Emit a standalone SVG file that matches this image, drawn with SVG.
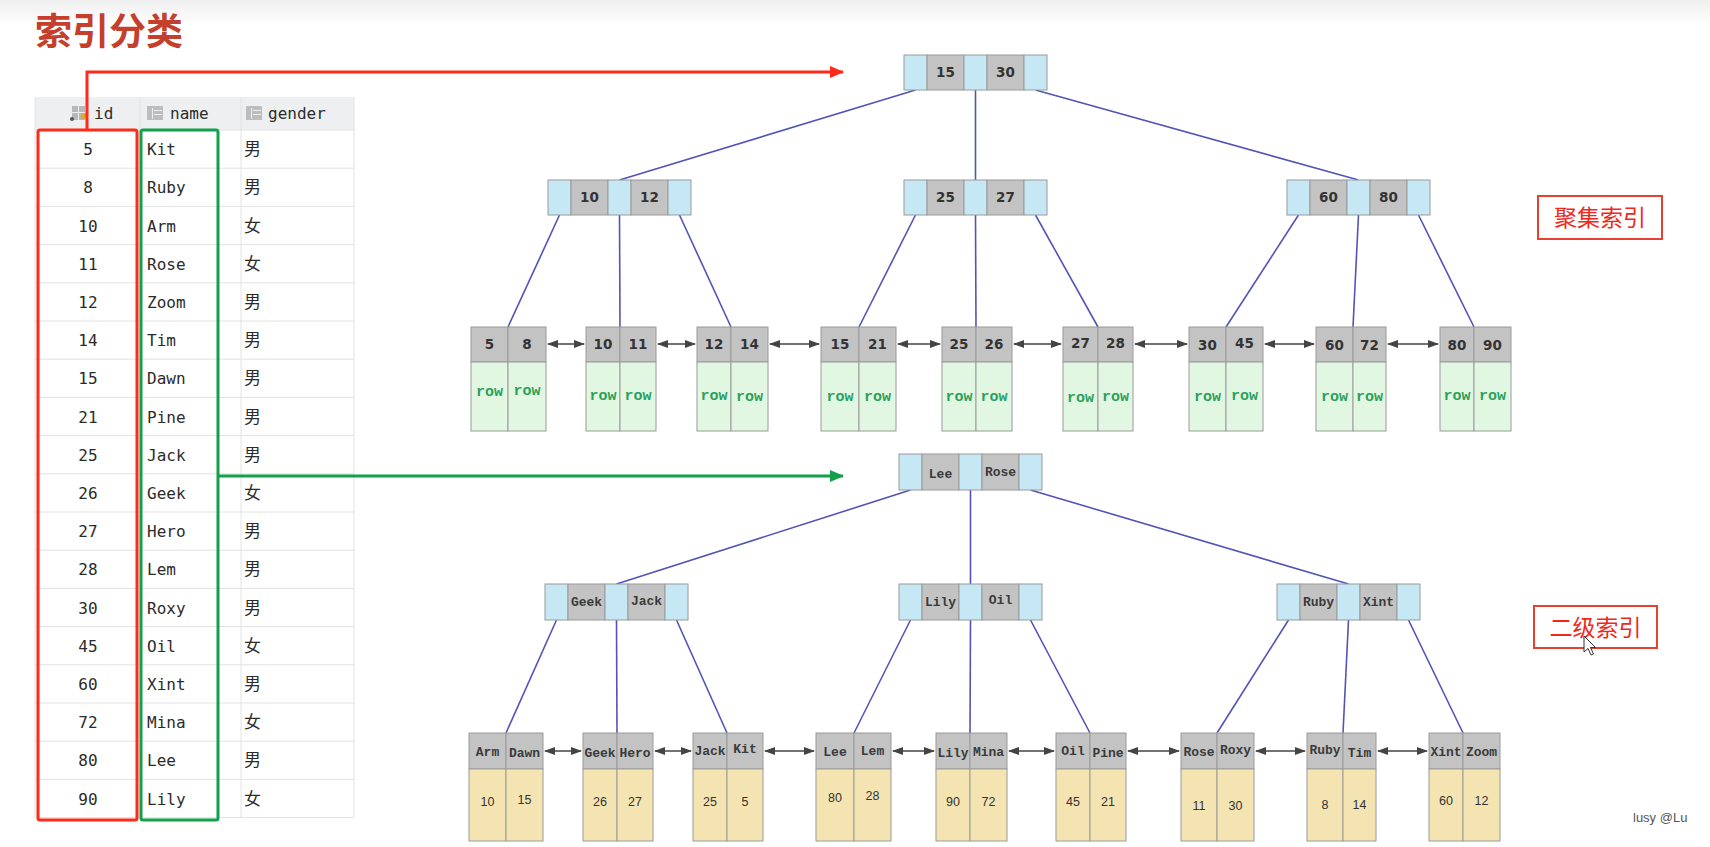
<svg xmlns="http://www.w3.org/2000/svg" width="1710" height="847" viewBox="0 0 1710 847">
<defs>
<linearGradient id="topg" x1="0" y1="0" x2="0" y2="1">
<stop offset="0" stop-color="#efefef"/><stop offset="1" stop-color="#ffffff"/>
</linearGradient>
<marker id="arR" markerWidth="14" markerHeight="12" refX="13" refY="6" orient="auto" markerUnits="userSpaceOnUse"><path d="M0,0 L14,6 L0,12 z" fill="#ff2a1a"/></marker>
<marker id="arG" markerWidth="14" markerHeight="12" refX="13" refY="6" orient="auto" markerUnits="userSpaceOnUse"><path d="M0,0 L14,6 L0,12 z" fill="#12a04a"/></marker>
<marker id="dh" markerWidth="11" markerHeight="8" refX="10" refY="4" orient="auto-start-reverse" markerUnits="userSpaceOnUse"><path d="M0,0 L11,4 L0,8 z" fill="#444"/></marker>
</defs>
<style>
.blue{fill:#c6e8f5;stroke:#9a9a9a;stroke-width:1}
.key{fill:#c3c3c3;stroke:#9a9a9a;stroke-width:1}
.rowc{fill:#e2f7e2;stroke:#9a9a9a;stroke-width:1}
.val{fill:#f4e4b2;stroke:#9a9a9a;stroke-width:1}
.k{font-family:"DejaVu Sans",Verdana,sans-serif;font-weight:bold;font-size:13.5px;fill:#333;text-anchor:middle}
.s{font-family:"Liberation Mono","Courier New",monospace;font-weight:bold;font-size:13px;fill:#3a3a3a;text-anchor:middle}
.rw{font-family:"Liberation Mono","Courier New",monospace;font-weight:bold;font-size:15px;fill:#2aa05a;text-anchor:middle}
.v{font-family:"Liberation Sans",Arial,sans-serif;font-size:12.5px;fill:#333;text-anchor:middle}
.con line{stroke:#5353b8;stroke-width:1.6}
.lk line{stroke:#444;stroke-width:1.4;marker-start:url(#dh);marker-end:url(#dh)}
.td{font-family:"DejaVu Sans Mono",monospace;font-size:16px;fill:#2b2b2b}
.tg{font-family:"Noto Sans CJK SC",sans-serif;font-size:17px;fill:#2b2b2b}
.grid line{stroke:#e2e2e2;stroke-width:1}
.lbl{fill:#fff;stroke:#e8412f;stroke-width:2}
.lt{font-family:"Noto Sans CJK SC",sans-serif;font-size:23px;fill:#f0281a;text-anchor:middle}
</style>
<rect x="0" y="0" width="1710" height="847" fill="#fff"/>
<rect x="0" y="0" width="1710" height="26" fill="url(#topg)"/>

<g id="title"><text x="35" y="45" font-family="Noto Sans CJK SC,sans-serif" font-weight="bold" font-size="37" fill="#c4402c">索引分类</text></g>

<g id="table">
<rect x="35" y="97" width="319" height="33" fill="#eeeff1"/>
<g class="grid">
<line x1="140" y1="97" x2="140" y2="817"/><line x1="241" y1="97" x2="241" y2="817"/>
<line x1="35" y1="97" x2="35" y2="817"/><line x1="354" y1="97" x2="354" y2="817"/>
<line x1="35" y1="130" x2="354" y2="130"/><line x1="35" y1="168.2" x2="354" y2="168.2"/><line x1="35" y1="206.4" x2="354" y2="206.4"/><line x1="35" y1="244.6" x2="354" y2="244.6"/><line x1="35" y1="282.8" x2="354" y2="282.8"/><line x1="35" y1="321" x2="354" y2="321"/><line x1="35" y1="359.2" x2="354" y2="359.2"/><line x1="35" y1="397.4" x2="354" y2="397.4"/><line x1="35" y1="435.6" x2="354" y2="435.6"/><line x1="35" y1="473.8" x2="354" y2="473.8"/><line x1="35" y1="512" x2="354" y2="512"/><line x1="35" y1="550.2" x2="354" y2="550.2"/><line x1="35" y1="588.4" x2="354" y2="588.4"/><line x1="35" y1="626.6" x2="354" y2="626.6"/><line x1="35" y1="664.8" x2="354" y2="664.8"/><line x1="35" y1="703" x2="354" y2="703"/><line x1="35" y1="741.2" x2="354" y2="741.2"/><line x1="35" y1="779.4" x2="354" y2="779.4"/><line x1="35" y1="817.6" x2="354" y2="817.6"/>
</g>
<g id="hdr-icons">
<rect x="72" y="106" width="13" height="14" fill="#b8b8b8"/><rect x="78" y="106" width="1" height="14" fill="#eee"/><rect x="72" y="112" width="13" height="1" fill="#eee"/><circle cx="84" cy="116" r="3" fill="#e0a82a"/><circle cx="72" cy="119" r="2" fill="#555"/>
<rect x="147" y="106" width="16" height="14" fill="#bdbdbd"/><rect x="152" y="108" width="1" height="11" fill="#eee"/><rect x="154" y="110" width="8" height="1" fill="#eee"/><rect x="154" y="114" width="8" height="1" fill="#eee"/>
<rect x="246" y="106" width="16" height="14" fill="#bdbdbd"/><rect x="251" y="108" width="1" height="11" fill="#eee"/><rect x="253" y="110" width="8" height="1" fill="#eee"/><rect x="253" y="114" width="8" height="1" fill="#eee"/>
</g>
<text class="td" x="94" y="119">id</text><text class="td" x="170" y="119">name</text><text class="td" x="268" y="119">gender</text>
<g class="td" text-anchor="middle">
<text x="88" y="155">5</text><text x="88" y="193">8</text><text x="88" y="231.5">10</text><text x="88" y="270">11</text><text x="88" y="308">12</text><text x="88" y="346">14</text><text x="88" y="384">15</text><text x="88" y="422.5">21</text><text x="88" y="460.5">25</text><text x="88" y="499">26</text><text x="88" y="537">27</text><text x="88" y="575">28</text><text x="88" y="613.5">30</text><text x="88" y="651.5">45</text><text x="88" y="690">60</text><text x="88" y="728">72</text><text x="88" y="766">80</text><text x="88" y="804.5">90</text>
</g>
<g class="td">
<text x="147" y="155">Kit</text><text x="147" y="193">Ruby</text><text x="147" y="231.5">Arm</text><text x="147" y="270">Rose</text><text x="147" y="308">Zoom</text><text x="147" y="346">Tim</text><text x="147" y="384">Dawn</text><text x="147" y="422.5">Pine</text><text x="147" y="460.5">Jack</text><text x="147" y="499">Geek</text><text x="147" y="537">Hero</text><text x="147" y="575">Lem</text><text x="147" y="613.5">Roxy</text><text x="147" y="651.5">Oil</text><text x="147" y="690">Xint</text><text x="147" y="728">Mina</text><text x="147" y="766">Lee</text><text x="147" y="804.5">Lily</text>
</g>
<g class="tg">
<text x="244" y="155">男</text><text x="244" y="193">男</text><text x="244" y="231.5">女</text><text x="244" y="270">女</text><text x="244" y="308">男</text><text x="244" y="346">男</text><text x="244" y="384">男</text><text x="244" y="422.5">男</text><text x="244" y="460.5">男</text><text x="244" y="499">女</text><text x="244" y="537">男</text><text x="244" y="575">男</text><text x="244" y="613.5">男</text><text x="244" y="651.5">女</text><text x="244" y="690">男</text><text x="244" y="728">女</text><text x="244" y="766">男</text><text x="244" y="804.5">女</text>
</g>
</g>

<g id="highlights">
<rect x="38" y="130" width="99" height="690" rx="2" fill="none" stroke="#ff2a1a" stroke-width="3"/>
<rect x="141" y="130" width="77" height="690" rx="2" fill="none" stroke="#12a04a" stroke-width="3"/>
</g>

<g id="connectors">
<polyline points="87,130 87,72 843,72" fill="none" stroke="#ff2a1a" stroke-width="3" marker-end="url(#arR)"/>
<line x1="218" y1="476" x2="843" y2="476" stroke="#12a04a" stroke-width="3" marker-end="url(#arG)"/>
<g class="con">
<line x1="915.5" y1="90" x2="619.5" y2="180"/><line x1="975.5" y1="90" x2="975.5" y2="180"/><line x1="1035.5" y1="90" x2="1358.5" y2="180"/>
<line x1="559.5" y1="215" x2="508" y2="327"/><line x1="619.5" y1="215" x2="620" y2="327"/><line x1="679.5" y1="215" x2="731" y2="327"/>
<line x1="915.5" y1="215" x2="859" y2="327"/><line x1="975.5" y1="215" x2="976" y2="327"/><line x1="1035.5" y1="215" x2="1098" y2="327"/>
<line x1="1298.5" y1="215" x2="1226" y2="327"/><line x1="1358.5" y1="215" x2="1353" y2="327"/><line x1="1418.5" y1="215" x2="1474" y2="327"/>
<line x1="910.5" y1="490" x2="616.5" y2="584"/><line x1="970.5" y1="490" x2="970.5" y2="584"/><line x1="1030.5" y1="490" x2="1348.5" y2="584"/>
<line x1="556.5" y1="620" x2="506" y2="733"/><line x1="616.5" y1="620" x2="617" y2="733"/><line x1="676.5" y1="620" x2="727" y2="733"/>
<line x1="910.5" y1="620" x2="854" y2="733"/><line x1="970.5" y1="620" x2="970" y2="733"/><line x1="1030.5" y1="620" x2="1090" y2="733"/>
<line x1="1288.5" y1="620" x2="1217" y2="733"/><line x1="1348.5" y1="620" x2="1343" y2="733"/><line x1="1408.5" y1="620" x2="1463" y2="733"/>
</g>
<g class="lk">
<line x1="548" y1="344" x2="584" y2="344"/><line x1="658" y1="344" x2="695" y2="344"/><line x1="770" y1="344" x2="819" y2="344"/><line x1="898" y1="344" x2="940" y2="344"/><line x1="1014" y1="344" x2="1061" y2="344"/><line x1="1135" y1="344" x2="1187" y2="344"/><line x1="1265" y1="344" x2="1314" y2="344"/><line x1="1388" y1="344" x2="1438" y2="344"/>
<line x1="545" y1="751" x2="581" y2="751"/><line x1="655" y1="751" x2="691" y2="751"/><line x1="765" y1="751" x2="814" y2="751"/><line x1="893" y1="751" x2="934" y2="751"/><line x1="1009" y1="751" x2="1054" y2="751"/><line x1="1128" y1="751" x2="1179" y2="751"/><line x1="1256" y1="751" x2="1305" y2="751"/><line x1="1378" y1="751" x2="1427" y2="751"/>
</g>
</g>

<g id="cl-root">
<rect class="blue" x="904" y="55" width="23" height="35"/><rect class="key" x="927" y="55" width="37" height="35"/><rect class="blue" x="964" y="55" width="23" height="35"/><rect class="key" x="987" y="55" width="37" height="35"/><rect class="blue" x="1024" y="55" width="23" height="35"/>
<text class="k" x="945.5" y="77">15</text><text class="k" x="1005.5" y="77">30</text>
</g>
<g id="cl-mid1">
<rect class="blue" x="548" y="180" width="23" height="35"/><rect class="key" x="571" y="180" width="37" height="35"/><rect class="blue" x="608" y="180" width="23" height="35"/><rect class="key" x="631" y="180" width="37" height="35"/><rect class="blue" x="668" y="180" width="23" height="35"/>
<text class="k" x="589.5" y="202">10</text><text class="k" x="649.5" y="202">12</text>
</g>
<g id="cl-mid2">
<rect class="blue" x="904" y="180" width="23" height="35"/><rect class="key" x="927" y="180" width="37" height="35"/><rect class="blue" x="964" y="180" width="23" height="35"/><rect class="key" x="987" y="180" width="37" height="35"/><rect class="blue" x="1024" y="180" width="23" height="35"/>
<text class="k" x="945.5" y="202">25</text><text class="k" x="1005.5" y="202">27</text>
</g>
<g id="cl-mid3">
<rect class="blue" x="1287" y="180" width="23" height="35"/><rect class="key" x="1310" y="180" width="37" height="35"/><rect class="blue" x="1347" y="180" width="23" height="35"/><rect class="key" x="1370" y="180" width="37" height="35"/><rect class="blue" x="1407" y="180" width="23" height="35"/>
<text class="k" x="1328.5" y="202">60</text><text class="k" x="1388.5" y="202">80</text>
</g>

<g id="cl-leaf1"><rect class="key" x="471" y="327" width="37" height="35"/><rect class="key" x="508" y="327" width="38" height="35"/><rect class="rowc" x="471" y="362" width="37" height="69"/><rect class="rowc" x="508" y="362" width="38" height="69"/><text class="k" x="489.5" y="349">5</text><text class="k" x="527" y="349">8</text><text class="rw" x="489.5" y="396">row</text><text class="rw" x="527" y="395">row</text></g>
<g id="cl-leaf2"><rect class="key" x="586" y="327" width="34" height="35"/><rect class="key" x="620" y="327" width="36" height="35"/><rect class="rowc" x="586" y="362" width="34" height="69"/><rect class="rowc" x="620" y="362" width="36" height="69"/><text class="k" x="603" y="349">10</text><text class="k" x="638" y="349">11</text><text class="rw" x="603" y="400">row</text><text class="rw" x="638" y="400">row</text></g>
<g id="cl-leaf3"><rect class="key" x="697" y="327" width="34" height="35"/><rect class="key" x="731" y="327" width="37" height="35"/><rect class="rowc" x="697" y="362" width="34" height="69"/><rect class="rowc" x="731" y="362" width="37" height="69"/><text class="k" x="714" y="349">12</text><text class="k" x="749.5" y="349">14</text><text class="rw" x="714" y="400">row</text><text class="rw" x="749.5" y="401">row</text></g>
<g id="cl-leaf4"><rect class="key" x="821" y="327" width="38" height="35"/><rect class="key" x="859" y="327" width="37" height="35"/><rect class="rowc" x="821" y="362" width="38" height="69"/><rect class="rowc" x="859" y="362" width="37" height="69"/><text class="k" x="840" y="349">15</text><text class="k" x="877.5" y="349">21</text><text class="rw" x="840" y="401">row</text><text class="rw" x="877.5" y="401">row</text></g>
<g id="cl-leaf5"><rect class="key" x="942" y="327" width="34" height="35"/><rect class="key" x="976" y="327" width="36" height="35"/><rect class="rowc" x="942" y="362" width="34" height="69"/><rect class="rowc" x="976" y="362" width="36" height="69"/><text class="k" x="959" y="349">25</text><text class="k" x="994" y="349">26</text><text class="rw" x="959" y="401">row</text><text class="rw" x="994" y="401">row</text></g>
<g id="cl-leaf6"><rect class="key" x="1063" y="327" width="35" height="35"/><rect class="key" x="1098" y="327" width="35" height="35"/><rect class="rowc" x="1063" y="362" width="35" height="69"/><rect class="rowc" x="1098" y="362" width="35" height="69"/><text class="k" x="1080.5" y="348">27</text><text class="k" x="1115.5" y="348">28</text><text class="rw" x="1080.5" y="402">row</text><text class="rw" x="1115.5" y="401">row</text></g>
<g id="cl-leaf7"><rect class="key" x="1189" y="327" width="37" height="35"/><rect class="key" x="1226" y="327" width="37" height="35"/><rect class="rowc" x="1189" y="362" width="37" height="69"/><rect class="rowc" x="1226" y="362" width="37" height="69"/><text class="k" x="1207.5" y="350">30</text><text class="k" x="1244.5" y="348">45</text><text class="rw" x="1207.5" y="401">row</text><text class="rw" x="1244.5" y="400">row</text></g>
<g id="cl-leaf8"><rect class="key" x="1316" y="327" width="37" height="35"/><rect class="key" x="1353" y="327" width="33" height="35"/><rect class="rowc" x="1316" y="362" width="37" height="69"/><rect class="rowc" x="1353" y="362" width="33" height="69"/><text class="k" x="1334.5" y="350">60</text><text class="k" x="1369.5" y="350">72</text><text class="rw" x="1334.5" y="401">row</text><text class="rw" x="1369.5" y="401">row</text></g>
<g id="cl-leaf9"><rect class="key" x="1440" y="327" width="34" height="35"/><rect class="key" x="1474" y="327" width="37" height="35"/><rect class="rowc" x="1440" y="362" width="34" height="69"/><rect class="rowc" x="1474" y="362" width="37" height="69"/><text class="k" x="1457" y="350">80</text><text class="k" x="1492.5" y="350">90</text><text class="rw" x="1457" y="400">row</text><text class="rw" x="1492.5" y="400">row</text></g>

<g id="label-clustered"><rect class="lbl" x="1538" y="196" width="124" height="43"/><text class="lt" x="1600" y="226">聚集索引</text></g>

<g id="sec-root">
<rect class="blue" x="899" y="454" width="23" height="36"/><rect class="key" x="922" y="454" width="37" height="36"/><rect class="blue" x="959" y="454" width="23" height="36"/><rect class="key" x="982" y="454" width="37" height="36"/><rect class="blue" x="1019" y="454" width="23" height="36"/>
<text class="s" x="940.5" y="478">Lee</text><text class="s" x="1000.5" y="476">Rose</text>
</g>
<g id="sec-mid1">
<rect class="blue" x="545" y="584" width="23" height="36"/><rect class="key" x="568" y="584" width="37" height="36"/><rect class="blue" x="605" y="584" width="23" height="36"/><rect class="key" x="628" y="584" width="37" height="36"/><rect class="blue" x="665" y="584" width="23" height="36"/>
<text class="s" x="586.5" y="606">Geek</text><text class="s" x="646.5" y="605">Jack</text>
</g>
<g id="sec-mid2">
<rect class="blue" x="899" y="584" width="23" height="36"/><rect class="key" x="922" y="584" width="37" height="36"/><rect class="blue" x="959" y="584" width="23" height="36"/><rect class="key" x="982" y="584" width="37" height="36"/><rect class="blue" x="1019" y="584" width="23" height="36"/>
<text class="s" x="940.5" y="606">Lily</text><text class="s" x="1000.5" y="604">Oil</text>
</g>
<g id="sec-mid3">
<rect class="blue" x="1277" y="584" width="23" height="36"/><rect class="key" x="1300" y="584" width="37" height="36"/><rect class="blue" x="1337" y="584" width="23" height="36"/><rect class="key" x="1360" y="584" width="37" height="36"/><rect class="blue" x="1397" y="584" width="23" height="36"/>
<text class="s" x="1318.5" y="606">Ruby</text><text class="s" x="1378.5" y="606">Xint</text>
</g>

<g id="sec-leaf1"><rect class="key" x="469" y="733" width="37" height="36"/><rect class="key" x="506" y="733" width="37" height="36"/><rect class="val" x="469" y="769" width="37" height="72"/><rect class="val" x="506" y="769" width="37" height="72"/><text class="s" x="487.5" y="756">Arm</text><text class="s" x="524.5" y="757">Dawn</text><text class="v" x="487.5" y="806">10</text><text class="v" x="524.5" y="804">15</text></g>
<g id="sec-leaf2"><rect class="key" x="583" y="733" width="34" height="36"/><rect class="key" x="617" y="733" width="36" height="36"/><rect class="val" x="583" y="769" width="34" height="72"/><rect class="val" x="617" y="769" width="36" height="72"/><text class="s" x="600" y="757">Geek</text><text class="s" x="635" y="757">Hero</text><text class="v" x="600" y="806">26</text><text class="v" x="635" y="806">27</text></g>
<g id="sec-leaf3"><rect class="key" x="693" y="733" width="34" height="36"/><rect class="key" x="727" y="733" width="36" height="36"/><rect class="val" x="693" y="769" width="34" height="72"/><rect class="val" x="727" y="769" width="36" height="72"/><text class="s" x="710" y="755">Jack</text><text class="s" x="745" y="753">Kit</text><text class="v" x="710" y="806">25</text><text class="v" x="745" y="806">5</text></g>
<g id="sec-leaf4"><rect class="key" x="816" y="733" width="38" height="36"/><rect class="key" x="854" y="733" width="37" height="36"/><rect class="val" x="816" y="769" width="38" height="72"/><rect class="val" x="854" y="769" width="37" height="72"/><text class="s" x="835" y="756">Lee</text><text class="s" x="872.5" y="755">Lem</text><text class="v" x="835" y="802">80</text><text class="v" x="872.5" y="800">28</text></g>
<g id="sec-leaf5"><rect class="key" x="936" y="733" width="34" height="36"/><rect class="key" x="970" y="733" width="37" height="36"/><rect class="val" x="936" y="769" width="34" height="72"/><rect class="val" x="970" y="769" width="37" height="72"/><text class="s" x="953" y="757">Lily</text><text class="s" x="988.5" y="756">Mina</text><text class="v" x="953" y="806">90</text><text class="v" x="988.5" y="806">72</text></g>
<g id="sec-leaf6"><rect class="key" x="1056" y="733" width="34" height="36"/><rect class="key" x="1090" y="733" width="36" height="36"/><rect class="val" x="1056" y="769" width="34" height="72"/><rect class="val" x="1090" y="769" width="36" height="72"/><text class="s" x="1073" y="755">Oil</text><text class="s" x="1108" y="757">Pine</text><text class="v" x="1073" y="806">45</text><text class="v" x="1108" y="806">21</text></g>
<g id="sec-leaf7"><rect class="key" x="1181" y="733" width="36" height="36"/><rect class="key" x="1217" y="733" width="37" height="36"/><rect class="val" x="1181" y="769" width="36" height="72"/><rect class="val" x="1217" y="769" width="37" height="72"/><text class="s" x="1199" y="756">Rose</text><text class="s" x="1235.5" y="754">Roxy</text><text class="v" x="1199" y="810">11</text><text class="v" x="1235.5" y="810">30</text></g>
<g id="sec-leaf8"><rect class="key" x="1307" y="733" width="36" height="36"/><rect class="key" x="1343" y="733" width="33" height="36"/><rect class="val" x="1307" y="769" width="36" height="72"/><rect class="val" x="1343" y="769" width="33" height="72"/><text class="s" x="1325" y="754">Ruby</text><text class="s" x="1359.5" y="757">Tim</text><text class="v" x="1325" y="809">8</text><text class="v" x="1359.5" y="809">14</text></g>
<g id="sec-leaf9"><rect class="key" x="1429" y="733" width="34" height="36"/><rect class="key" x="1463" y="733" width="37" height="36"/><rect class="val" x="1429" y="769" width="34" height="72"/><rect class="val" x="1463" y="769" width="37" height="72"/><text class="s" x="1446" y="756">Xint</text><text class="s" x="1481.5" y="756">Zoom</text><text class="v" x="1446" y="805">60</text><text class="v" x="1481.5" y="805">12</text></g>

<g id="label-secondary"><rect class="lbl" x="1534" y="606" width="123" height="42"/><text class="lt" x="1595.5" y="636">二级索引</text></g>

<g id="cursor"><path d="M1584,636 L1584,652 L1588,648.5 L1591,655 L1593.5,654 L1590.5,647.5 L1595.5,647.5 Z" fill="#fff" stroke="#333" stroke-width="1"/></g>
<g id="watermark"><text x="1633" y="822" font-family="Liberation Sans,Arial,sans-serif" font-size="13" fill="#555">lusy @Lu</text></g>
</svg>
